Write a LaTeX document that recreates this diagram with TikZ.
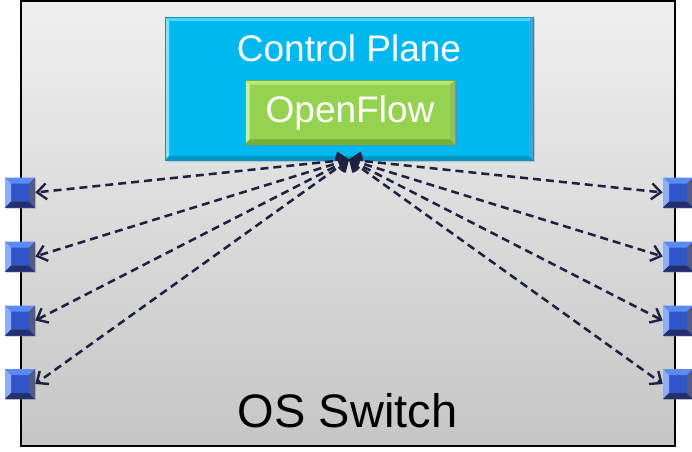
\documentclass[tikz,border=0pt]{standalone}
\usepackage{fontspec}
\setmainfont{Liberation Sans}
\usetikzlibrary{arrows.meta,shadows}
\definecolor{cpblue}{HTML}{00B8F0}
\definecolor{cplight}{HTML}{4FD8FF}
\definecolor{cpdark}{HTML}{0096C8}
\definecolor{ofgreen}{HTML}{95D24F}
\definecolor{oflight}{HTML}{B8E680}
\definecolor{ofdark}{HTML}{78AE38}
\definecolor{portblue}{HTML}{2F56C8}
\definecolor{portlight}{HTML}{5C8CF0}
\definecolor{portdark}{HTML}{25306A}
\definecolor{linkcol}{HTML}{1E2240}
\tikzset{
  bevel/.style n args={3}{path picture={
    \fill[#1] (path picture bounding box.north west) -- (path picture bounding box.north east)
      -- ([xshift=-#3,yshift=-#3]path picture bounding box.north east)
      -- ([xshift=#3,yshift=-#3]path picture bounding box.north west) -- cycle;
    \fill[#1!70!white] (path picture bounding box.north west) -- ([xshift=#3,yshift=-#3]path picture bounding box.north west)
      -- ([xshift=#3,yshift=#3]path picture bounding box.south west) -- (path picture bounding box.south west) -- cycle;
    \fill[#2] (path picture bounding box.south west) -- (path picture bounding box.south east)
      -- ([xshift=-#3,yshift=#3]path picture bounding box.south east)
      -- ([xshift=#3,yshift=#3]path picture bounding box.south west) -- cycle;
    \fill[#2!80!white] (path picture bounding box.north east) -- ([xshift=-#3,yshift=-#3]path picture bounding box.north east)
      -- ([xshift=-#3,yshift=#3]path picture bounding box.south east) -- (path picture bounding box.south east) -- cycle;
  }},
  switchbox/.style={draw=black, line width=1.5pt, top color=gray!12, bottom color=gray!45,
    minimum width=490.5pt, minimum height=333.75pt, inner sep=0pt},
  cpbox/.style={fill=cpblue, draw=cpdark, line width=0.4pt, bevel={cplight}{cpdark}{3pt},
    minimum width=276pt, minimum height=107.25pt, inner sep=0pt,
    drop shadow={opacity=0.35, shadow xshift=1.5pt, shadow yshift=-1.5pt}},
  ofbox/.style={fill=ofgreen, draw=ofdark, line width=0.4pt, bevel={oflight}{ofdark}{3.5pt},
    minimum width=157.5pt, minimum height=48pt, inner sep=0pt,
    drop shadow={opacity=0.45, shadow xshift=1.5pt, shadow yshift=-1.5pt}},
  port/.style={fill=portblue, bevel={portlight}{portdark}{4.5pt},
    minimum size=22.5pt, inner sep=0pt,
    drop shadow={opacity=0.35, shadow xshift=1pt, shadow yshift=-1pt}},
  link/.style={draw=linkcol, line width=1.9pt, dash pattern=on 6pt off 3.75pt,
    {Straight Barb[length=7pt,width=12pt,line width=1.8pt]}-{Straight Barb[length=7pt,width=12pt,line width=1.8pt]}},
  lbl/.style={text=white, font=\fontsize{27.75}{30}\selectfont, anchor=base, inner sep=0pt},
}
\begin{document}
\begin{tikzpicture}[x=0.75pt,y=-0.75pt]
\useasboundingbox (0,0) rectangle (692,451);
\node[switchbox] (sw) at (348,223.5) {};
\node[cpbox] (cp) at (349,88.5) {};
\node[ofbox] (of) at (350,112) {};
\node[lbl] (cpt) at (349,61) {Control Plane};
\node[lbl] (oft) at (350,122) {OpenFlow};
\node[anchor=base, inner sep=0pt, font=\fontsize{35.25}{40}\selectfont] (swt) at (347.5,427) {OS Switch};
\coordinate (hub) at (349,159.5);
\foreach \i/\y in {1/192.5,2/256.5,3/320.5,4/384} {
  \node[port] (L\i) at (20,\y) {};
  \node[port] (R\i) at (678,\y) {};
}
\foreach \i in {1,2,3,4} {
  \draw[link] (hub) -- (L\i.east);
  \draw[link] (hub) -- (R\i.west);
}
\end{tikzpicture}
\end{document}
